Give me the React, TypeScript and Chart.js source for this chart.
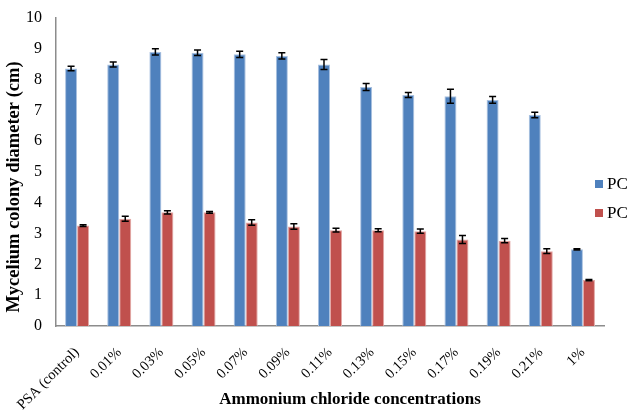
import React, { useEffect, useRef } from "react";
import { Chart, registerables } from "chart.js";

Chart.register(...registerables);

const categories = [
  "PSA (control)", "0.01%", "0.03%", "0.05%", "0.07%", "0.09%", "0.11%",
  "0.13%", "0.15%", "0.17%", "0.19%", "0.21%", "1%",
];
const seriesNames = ["PC", "PC"];
const blueValues = [8.36, 8.49, 8.9, 8.87, 8.82, 8.77, 8.49, 7.76, 7.5, 7.46, 7.34, 6.85, 2.49];
const blueErrors = [0.07, 0.08, 0.1, 0.09, 0.1, 0.1, 0.16, 0.11, 0.08, 0.23, 0.11, 0.09, 0.02];
const redValues = [3.26, 3.48, 3.69, 3.69, 3.36, 3.23, 3.11, 3.11, 3.08, 2.81, 2.77, 2.43, 1.49];
const redErrors = [0.03, 0.08, 0.05, 0.03, 0.09, 0.09, 0.06, 0.05, 0.07, 0.13, 0.07, 0.08, 0.02];
const yTicks = [0, 1, 2, 3, 4, 5, 6, 7, 8, 9, 10];

const BLUE = "#4F81BD";
const RED = "#C0504D";
const FONT = "'Liberation Serif', 'Times New Roman', serif";

const errorBarPlugin = {
  id: "errorBars",
  afterDatasetsDraw(chart: any) {
    const ctx = chart.ctx;
    const yScale = chart.scales.y;
    const errs = [blueErrors, redErrors];
    ctx.save();
    ctx.strokeStyle = "#000";
    ctx.lineWidth = 1.5;
    chart.data.datasets.forEach((ds: any, di: number) => {
      const meta = chart.getDatasetMeta(di);
      meta.data.forEach((el: any, i: number) => {
        const v = ds.data[i];
        const e = errs[di][i];
        const yTop = yScale.getPixelForValue(v + e);
        const yBot = yScale.getPixelForValue(v - e);
        const x = el.x;
        ctx.beginPath();
        ctx.moveTo(x, yTop);
        ctx.lineTo(x, yBot);
        ctx.moveTo(x - 3.5, yTop);
        ctx.lineTo(x + 3.5, yTop);
        ctx.moveTo(x - 3.5, yBot);
        ctx.lineTo(x + 3.5, yBot);
        ctx.stroke();
      });
    });
    ctx.restore();
  },
};

const labelsPlugin = {
  id: "labelsPlugin",
  afterDraw(chart: any) {
    const ctx = chart.ctx;
    ctx.save();
    ctx.fillStyle = "#000";
    // y title
    ctx.font = `bold 18.5px ${FONT}`;
    ctx.textAlign = "center";
    ctx.textBaseline = "middle";
    ctx.save();
    ctx.translate(14, 187);
    ctx.rotate(-Math.PI / 2);
    ctx.fillText("Mycelium colony diameter (cm)", 0, 0);
    ctx.restore();
    // x title
    ctx.font = `bold 17px ${FONT}`;
    ctx.fillText("Ammonium chloride concentrations", 350, 400);
    // legend
    ctx.font = `17px ${FONT}`;
    ctx.textAlign = "left";
    const items = [
      { name: seriesNames[0], color: BLUE, y: 184 },
      { name: seriesNames[1], color: RED, y: 213 },
    ];
    items.forEach((it) => {
      ctx.fillStyle = it.color;
      ctx.fillRect(595, it.y - 4, 8, 8);
      ctx.fillStyle = "#000";
      ctx.fillText(it.name, 607, it.y + 1);
    });
    ctx.restore();
  },
};

export default function App() {
  const ref = useRef<HTMLCanvasElement | null>(null);
  useEffect(() => {
    if (!ref.current) return;
    const chart = new Chart(ref.current, {
      type: "bar",
      data: {
        labels: categories,
        datasets: [
          {
            label: seriesNames[0],
            data: blueValues,
            backgroundColor: BLUE,
            borderColor: "#a9c1e0",
            borderWidth: 1,
          },
          {
            label: seriesNames[1],
            data: redValues,
            backgroundColor: RED,
            borderColor: "#e3a9a7",
            borderWidth: 1,
          },
        ],
      },
      options: {
        responsive: false,
        animation: false,
        layout: { padding: { top: 18, right: 23, left: 0, bottom: 0 } },
        plugins: {
          legend: { display: false },
          tooltip: { enabled: false },
          title: { display: false },
        },
        datasets: {
          bar: { categoryPercentage: 0.57, barPercentage: 1.0 },
        },
        scales: {
          x: {
            grid: { display: false },
            border: { display: true, color: "#8c8c8c", width: 1.5 },
            ticks: {
              color: "#000",
              font: { family: FONT, size: 14.5 },
              minRotation: 45,
              maxRotation: 45,
              padding: 10,
              autoSkip: false,
            },
            afterFit: (s: any) => {
              s.height = 86;
            },
          },
          y: {
            min: 0,
            max: 10,
            afterBuildTicks: (s: any) => {
              s.ticks = yTicks.map((v) => ({ value: v }));
            },
            grid: { display: false },
            border: { display: true, color: "#8c8c8c", width: 1.5 },
            ticks: {
              color: "#000",
              font: { family: FONT, size: 16 },
              padding: 6,
            },
            afterFit: (s: any) => {
              s.width = 56;
            },
          },
        },
      },
      plugins: [errorBarPlugin, labelsPlugin],
    });
    return () => chart.destroy();
  }, []);
  return (
    <div style={{ position: "fixed", left: 0, top: 0, width: 627, height: 412, background: "#fff" }}>
      <canvas ref={ref} width={627} height={412} />
    </div>
  );
}
